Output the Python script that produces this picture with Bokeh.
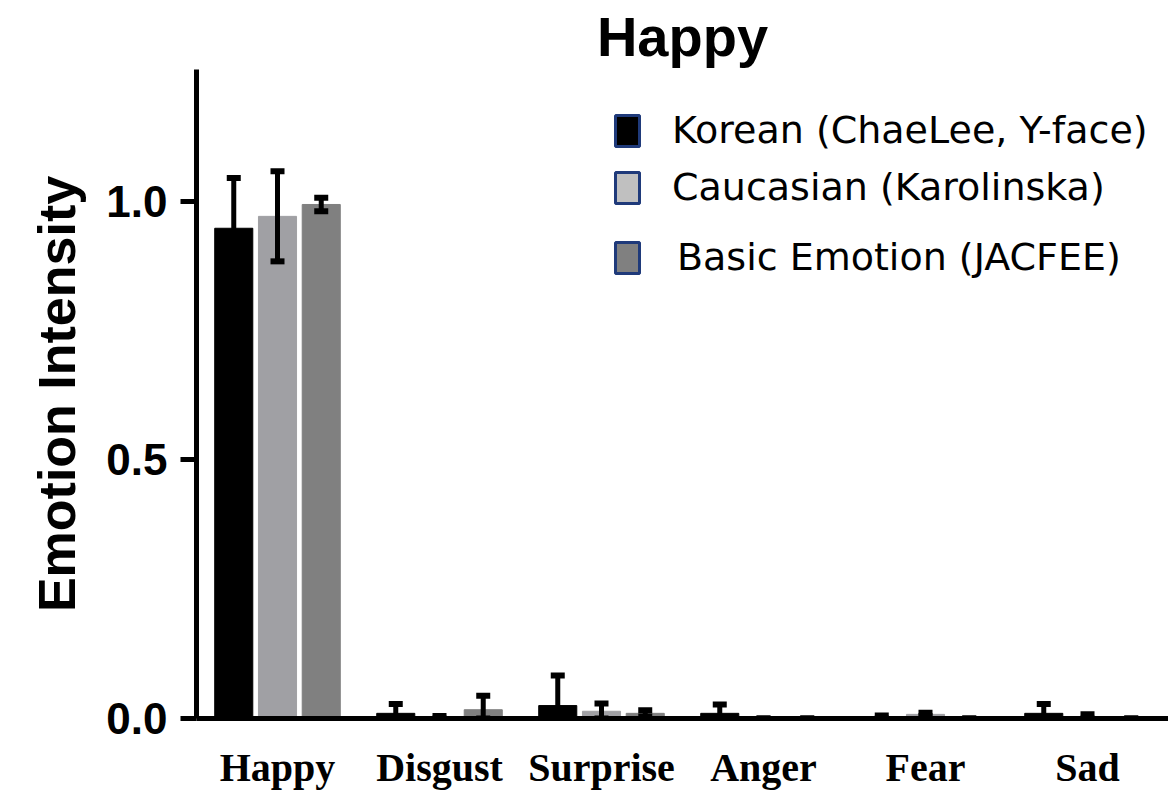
from bokeh.plotting import figure
from bokeh.models import (ColumnDataSource, FactorRange, Range1d, Whisker, TeeHead,
                          FixedTicker, Legend, LegendItem, NumeralTickFormatter)
from bokeh.transform import dodge
from bokeh.embed import file_html
from bokeh.resources import INLINE

categories = ["Happy", "Disgust", "Surprise", "Anger", "Fear", "Sad"]
korean = [0.948, 0.010, 0.025, 0.010, 0.001, 0.010]
korean_err = [0.097, 0.018, 0.058, 0.017, 0.005, 0.018]
caucasian = [0.971, 0.001, 0.014, 0.000, 0.008, 0.001]
caucasian_err = [0.087, 0.004, 0.015, 0.000, 0.003, 0.007]
basic = [0.994, 0.017, 0.010, 0.000, 0.000, 0.000]
basic_err = [0.013, 0.027, 0.006, 0.000, 0.000, 0.000]
series_names = ["Korean (ChaeLee, Y-face)", "Caucasian (Karolinska)", "Basic Emotion (JACFEE)"]
bar_colors = ["#000000", "#a0a0a4", "#808080"]
swatch_colors = ["#000000", "#c0c0c0", "#808080"]

p = figure(x_range=FactorRange(factors=categories, range_padding=0),
           y_range=Range1d(0, 1.255),
           width=1168, height=800, output_backend="svg", toolbar_location=None,
           min_border_left=196, min_border_right=0, min_border_top=69, min_border_bottom=82)

offsets = [-0.27, 0.0, 0.27]
vals = [korean, caucasian, basic]
errs = [korean_err, caucasian_err, basic_err]
for off, v, e, c in zip(offsets, vals, errs, bar_colors):
    upper = [a + b for a, b in zip(v, e)]
    lower = [max(a - b, 0.0) for a, b in zip(v, e)]
    src = ColumnDataSource(dict(cat=categories, val=v, upper=upper, lower=lower))
    p.vbar(x=dodge("cat", off, range=p.x_range), top="val", width=0.235, source=src,
           fill_color=c, line_color=c)
    w = Whisker(base=dodge("cat", off, range=p.x_range), upper="upper", lower="lower",
                source=src, line_color="black", line_width=5, level="glyph",
                upper_head=TeeHead(size=14, line_width=6, line_color="black"),
                lower_head=TeeHead(size=14, line_width=6, line_color="black"))
    p.add_layout(w)

# legends (swatch renderers are placed below the visible range so only the legend shows them)
leg_pos = [(416, 566), (416, 509), (416, 439)]
standoffs = [30, 30, 35]
for name, col, pos, so in zip(series_names, swatch_colors, leg_pos, standoffs):
    r = p.vbar(x=["Happy"], top=[-1], bottom=[-2], width=0.2, fill_color=col,
               line_color="#1f3a7a", line_width=3)
    leg = Legend(items=[LegendItem(label=name, renderers=[r])], location=pos,
                 padding=0, margin=0, spacing=0, border_line_color=None,
                 background_fill_alpha=0, glyph_width=30, glyph_height=39,
                 label_standoff=so, label_text_font="DejaVu Sans",
                 label_text_font_size="38px", label_text_color="black")
    p.add_layout(leg)

p.title.text = "Happy"
p.title.align = "center"
p.title.vertical_align = "top"
p.title.text_font = "Liberation Sans"
p.title.text_font_style = "bold"
p.title.text_font_size = "56px"
p.title.text_color = "black"
p.title.standoff = 0

p.xgrid.grid_line_color = None
p.ygrid.grid_line_color = None
p.outline_line_color = None

p.yaxis.ticker = FixedTicker(ticks=[0, 0.5, 1.0])
p.yaxis.formatter = NumeralTickFormatter(format="0.0")
p.yaxis.axis_line_width = 5
p.yaxis.major_tick_line_width = 5
p.yaxis.major_tick_out = 16
p.yaxis.major_tick_in = 0
p.yaxis.minor_tick_line_color = None
p.yaxis.major_label_text_font = "Liberation Sans"
p.yaxis.major_label_text_font_style = "bold"
p.yaxis.major_label_text_font_size = "44px"
p.yaxis.major_label_text_color = "black"
p.yaxis.major_label_standoff = 13
p.yaxis.axis_label = "Emotion Intensity"
p.yaxis.axis_label_text_font = "Liberation Sans"
p.yaxis.axis_label_text_font_style = "bold"
p.yaxis.axis_label_text_font_size = "52px"
p.yaxis.axis_label_text_color = "black"
p.yaxis.axis_label_standoff = 17

p.xaxis.axis_line_width = 5
p.xaxis.major_tick_line_color = None
p.xaxis.major_tick_out = 0
p.xaxis.major_tick_in = 0
p.xaxis.minor_tick_line_color = None
p.xaxis.major_label_text_font = "Liberation Serif"
p.xaxis.major_label_text_font_style = "bold"
p.xaxis.major_label_text_font_size = "40px"
p.xaxis.major_label_text_color = "black"
p.xaxis.major_label_standoff = 26

open("out.html", "w").write(file_html(p, INLINE))
